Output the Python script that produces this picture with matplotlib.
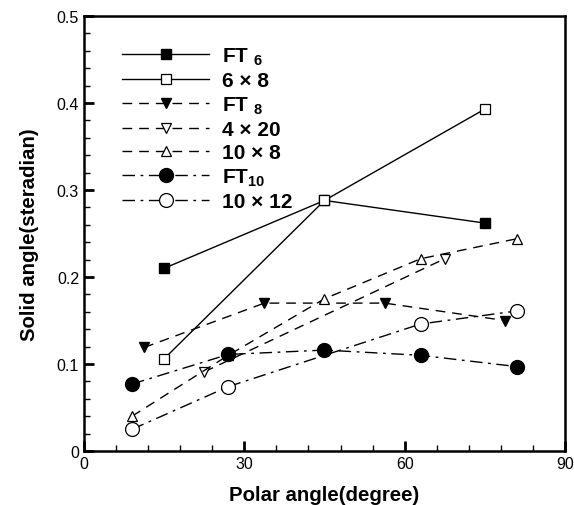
import matplotlib
matplotlib.use("Agg")
import matplotlib.pyplot as plt
from matplotlib.ticker import MultipleLocator, FuncFormatter

plt.rcParams['font.family'] = ['Liberation Sans', 'DejaVu Sans']
plt.rcParams['mathtext.fontset'] = 'custom'
plt.rcParams['mathtext.rm'] = 'Liberation Sans:bold'
plt.rcParams['mathtext.bf'] = 'Liberation Sans:bold'

# data
ft6_x = [15, 45, 75]
ft6_y = [0.210, 0.288, 0.262]
s6x8_x = [15, 45, 75]
s6x8_y = [0.106, 0.288, 0.393]
ft8_x = [11.25, 33.75, 56.25, 78.75]
ft8_y = [0.119, 0.170, 0.170, 0.150]
s4x20_x = [22.5, 67.5]
s4x20_y = [0.091, 0.221]
s10x8_x = [9, 27, 45, 63, 81]
s10x8_y = [0.040, 0.110, 0.175, 0.221, 0.244]
ft10_x = [9, 27, 45, 63, 81]
ft10_y = [0.077, 0.111, 0.116, 0.110, 0.097]
s10x12_x = [9, 27, 63, 81]
s10x12_y = [0.025, 0.074, 0.146, 0.161]

labels = [r"FT $_{6}$", "6 × 8", r"FT $_{8}$", "4 × 20", "10 × 8", r"FT$_{10}$", "10 × 12"]

fig = plt.figure(figsize=(5.74, 5.06), dpi=100)
ax = fig.add_axes([0.1463, 0.1067, 0.8380, 0.8597])

lw = 1.0
dash = (0, (7, 5))
dashdot = (0, (9, 4, 2, 4))
ax.plot(ft6_x, ft6_y, color='k', lw=lw, ls='-', marker='s', ms=7, mfc='k', mec='k', label=labels[0], zorder=3)
ax.plot(s6x8_x, s6x8_y, color='k', lw=lw, ls='-', marker='s', ms=7, mfc='white', mec='k', mew=0.9, label=labels[1], zorder=3)
ax.plot(ft8_x, ft8_y, color='k', lw=lw, ls=dash, marker='v', ms=7.5, mfc='k', mec='k', label=labels[2], zorder=3)
ax.plot(s4x20_x, s4x20_y, color='k', lw=lw, ls=dash, marker='v', ms=7.5, mfc='white', mec='k', mew=0.9, label=labels[3], zorder=3)
ax.plot(s10x8_x, s10x8_y, color='k', lw=lw, ls=dash, marker='^', ms=7.5, mfc='white', mec='k', mew=0.9, label=labels[4], zorder=3)
ax.plot(ft10_x, ft10_y, color='k', lw=lw, ls=dashdot, marker='o', ms=10, mfc='k', mec='k', label=labels[5], zorder=4)
ax.plot(s10x12_x, s10x12_y, color='k', lw=lw, ls=dashdot, marker='o', ms=10, mfc='white', mec='k', mew=0.9, label=labels[6], zorder=3)

ax.set_xlim(0, 90)
ax.set_ylim(0, 0.5)
ax.xaxis.set_major_locator(MultipleLocator(30))
ax.xaxis.set_minor_locator(MultipleLocator(6))
ax.yaxis.set_major_locator(MultipleLocator(0.1))
ax.yaxis.set_minor_locator(MultipleLocator(0.02))
ax.yaxis.set_major_formatter(FuncFormatter(lambda v, p: '0' if abs(v) < 1e-9 else f'{v:.1f}'))
ax.tick_params(which='both', direction='in', top=False, right=False, labelsize=11.5, width=1.0)
ax.tick_params(which='major', length=7, width=2)
ax.tick_params(which='minor', length=4)
for s in ax.spines.values():
    s.set_linewidth(1.8)

ax.set_xlabel('Polar angle(degree)', fontsize=14.7, fontweight='bold', labelpad=10)
ax.set_ylabel('Solid angle(steradian)', fontsize=14.7, fontweight='bold', labelpad=13)

leg = ax.legend(loc='upper left', bbox_to_anchor=(0.04, 0.975), frameon=False, handlelength=4.2,
                handletextpad=0.6, labelspacing=0.2, prop={'size': 15, 'weight': 'bold'})

fig.savefig('out.png', dpi=100)
